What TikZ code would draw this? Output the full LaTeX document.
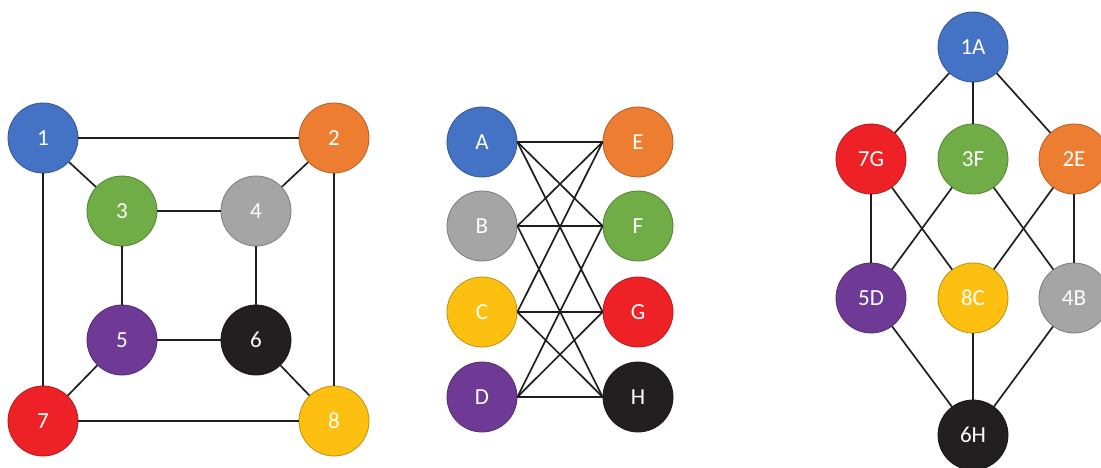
\documentclass[tikz,border=0pt]{standalone}
\usepackage{fontspec}
\setmainfont{Carlito}
\usetikzlibrary{positioning}
\definecolor{cblue}{HTML}{4472C4}
\definecolor{corange}{HTML}{ED7D31}
\definecolor{cgreen}{HTML}{70AD47}
\definecolor{cgray}{HTML}{A5A5A6}
\definecolor{cpurple}{HTML}{6F3A96}
\definecolor{cblack}{HTML}{231F20}
\definecolor{cred}{HTML}{EE2126}
\definecolor{cyellow}{HTML}{FDC010}
\begin{document}
\begin{tikzpicture}[x=1pt, y=-1pt,
      vert/.style={circle, draw=#1!75!black, fill=#1, line width=0.8pt,
                   minimum size=70pt, inner sep=0pt, text=white,
                   font=\fontsize{23}{23}\selectfont},
      edge/.style={line width=1.7pt, draw=black!88}]
    \useasboundingbox (0,0) rectangle (1101,468);
    % cube graph
    \foreach \n/\x/\y/\c in {1/43/138/cblue,2/334/138/corange,3/122/211/cgreen,
        4/256/211/cgray,5/122/340/cpurple,6/256/340/cblack,7/43/421/cred,8/334/421/cyellow}
      \node[vert=\c] (p\n) at (\x,\y) {\n};
    \foreach \a/\b in {1/2,1/3,1/7,2/4,2/8,3/4,3/5,4/6,5/6,5/7,6/8,7/8}
      \draw[edge] (p\a) -- (p\b);
    % bipartite graph
    \foreach \n/\y/\c in {A/142/cblue,B/226/cgray,C/312/cyellow,D/397/cpurple}
      \node[vert=\c] (q\n) at (482,\y) {\n};
    \foreach \n/\y/\c in {E/142/corange,F/226/cgreen,G/312/cred,H/397/cblack}
      \node[vert=\c] (q\n) at (638,\y) {\n};
    \foreach \a/\b in {A/E,A/F,A/G,B/E,B/F,B/H,C/E,C/G,C/H,D/F,D/G,D/H}
      \draw[edge] (q\a.east) -- (q\b.west);
    % layered graph
    \foreach \n/\x/\y/\c in {1A/973/47/cblue,7G/871/159/cred,3F/973/159/cgreen,
        2E/1074/159/corange,5D/871/298/cpurple,8C/973/298/cyellow,
        4B/1074/298/cgray,6H/973/435/cblack}
      \node[vert=\c] (r\n) at (\x,\y) {\n};
    \foreach \a/\b in {1A/7G,1A/3F,1A/2E,7G/5D,7G/8C,3F/5D,3F/4B,2E/8C,2E/4B,
        5D/6H,8C/6H,4B/6H}
      \draw[edge] (r\a) -- (r\b);
  \end{tikzpicture}
\end{document}
